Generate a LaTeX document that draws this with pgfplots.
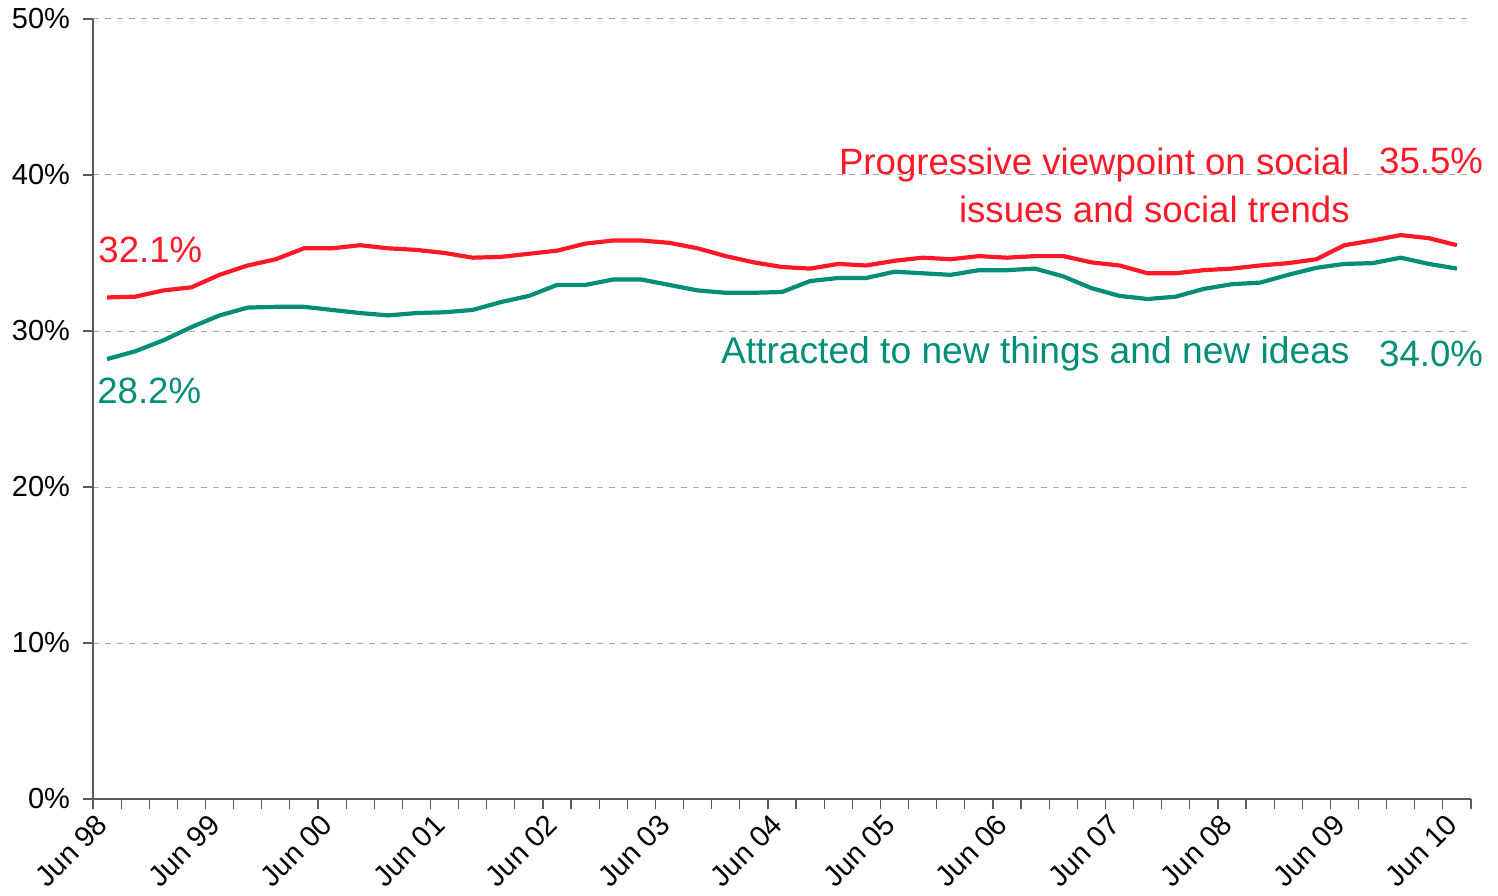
\documentclass[border=0pt]{standalone}
\usepackage{pgfplots}
\pgfplotsset{compat=1.18}
\usepackage{fontspec}
\setmainfont{Liberation Sans}
\definecolor{cred}{RGB}{255,25,40}
\definecolor{cgreen}{RGB}{0,142,120}
\definecolor{axgray}{RGB}{90,90,90}
\begin{document}
\begin{tikzpicture}
\begin{axis}[
  scale only axis,
  width=689pt, height=390pt,
  xmin=-0.5, xmax=48.5,
  ymin=0, ymax=50,
  axis x line=bottom, axis y line=left,
  axis line style={-, draw=axgray, line width=0.6pt},
  xtick={-0.5,3.5,...,47.5},
  xticklabels={Jun 98,Jun 99,Jun 00,Jun 01,Jun 02,Jun 03,Jun 04,Jun 05,Jun 06,Jun 07,Jun 08,Jun 09,Jun 10},
  minor xtick={-0.5,0.5,...,48.5},
  ytick={0,10,...,50},
  yticklabels={0\%,10\%,20\%,30\%,40\%,50\%},
  tick align=outside,
  major tick length=5pt, minor tick length=5pt,
  tick style={draw=axgray, line width=0.6pt},
  x tick label style={rotate=45, anchor=east, font=\fontsize{14.5}{16}\selectfont, xshift=3pt, yshift=-7pt},
  y tick label style={font=\fontsize{14.5}{16}\selectfont, xshift=-3pt},
  /pgf/number format/assume math mode=true,
  ymajorgrids,
  grid style={dashed, draw=gray!70, line width=0.5pt},
  clip=false,
]
\addplot[cred, line width=2.1pt] coordinates {
(0,32.15)(1,32.2)(2,32.6)(3,32.8)(4,33.6)(5,34.2)(6,34.6)(7,35.3)(8,35.3)(9,35.5)
(10,35.3)(11,35.2)(12,35.0)(13,34.7)(14,34.75)(15,34.95)(16,35.15)(17,35.6)(18,35.8)(19,35.8)
(20,35.65)(21,35.3)(22,34.8)(23,34.4)(24,34.1)(25,34.0)(26,34.3)(27,34.2)(28,34.5)(29,34.7)
(30,34.6)(31,34.8)(32,34.7)(33,34.8)(34,34.8)(35,34.4)(36,34.2)(37,33.7)(38,33.7)(39,33.9)
(40,34.0)(41,34.2)(42,34.35)(43,34.6)(44,35.5)(45,35.8)(46,36.15)(47,35.95)(48,35.5)
};
\addplot[cgreen, line width=2.1pt] coordinates {
(0,28.2)(1,28.7)(2,29.4)(3,30.25)(4,31.0)(5,31.5)(6,31.55)(7,31.55)(8,31.35)(9,31.15)
(10,31.0)(11,31.15)(12,31.2)(13,31.35)(14,31.85)(15,32.25)(16,32.95)(17,32.95)(18,33.3)(19,33.3)
(20,32.95)(21,32.6)(22,32.45)(23,32.45)(24,32.5)(25,33.2)(26,33.4)(27,33.4)(28,33.8)(29,33.7)
(30,33.6)(31,33.9)(32,33.9)(33,34.0)(34,33.5)(35,32.75)(36,32.25)(37,32.05)(38,32.2)(39,32.7)
(40,33.0)(41,33.1)(42,33.6)(43,34.05)(44,34.3)(45,34.35)(46,34.7)(47,34.3)(48,34.0)
};
\node[anchor=east, align=right, inner sep=0pt, text=cred, font=\fontsize{18.3}{24}\selectfont] at (axis cs:44.2,39.36) {Progressive viewpoint on social\\issues and social trends};
\node[anchor=west, inner sep=0pt, text=cred, font=\fontsize{18.3}{24}\selectfont] at (axis cs:45.22,40.9) {35.5\%};
\node[anchor=east, inner sep=0pt, text=cgreen, font=\fontsize{18.6}{24}\selectfont] at (axis cs:44.2,28.55) {Attracted to new things and new ideas};
\node[anchor=west, inner sep=0pt, text=cgreen, font=\fontsize{18.3}{24}\selectfont] at (axis cs:45.22,28.55) {34.0\%};
\node[anchor=west, inner sep=0pt, text=cred, font=\fontsize{18.3}{24}\selectfont] at (axis cs:-0.32,35.19) {32.1\%};
\node[anchor=west, inner sep=0pt, text=cgreen, font=\fontsize{18.3}{24}\selectfont] at (axis cs:-0.36,26.15) {28.2\%};
\end{axis}
\pgfresetboundingbox
\path[use as bounding box] ([xshift=-46.5pt,yshift=-48pt]current axis.south west) rectangle ([xshift=13.5pt,yshift=9.5pt]current axis.north east);
\end{tikzpicture}
\end{document}
